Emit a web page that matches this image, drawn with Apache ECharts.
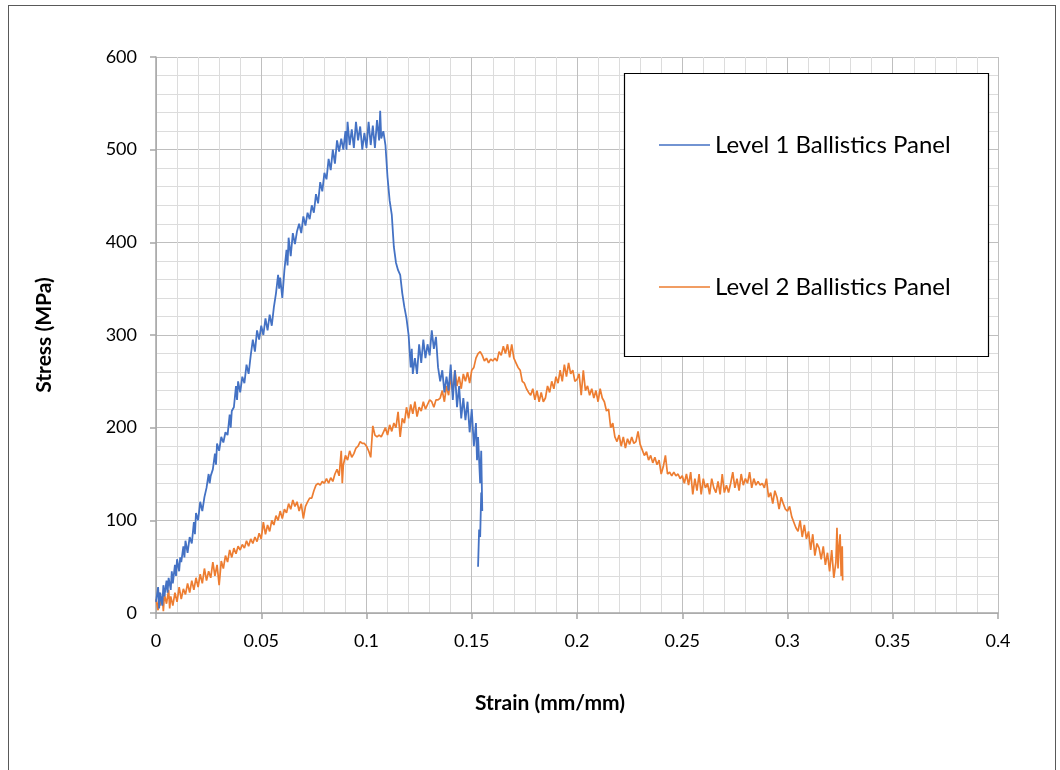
<!DOCTYPE html>
<html>
<head>
<meta charset="utf-8">
<script src="https://cdn.jsdelivr.net/npm/echarts@6/dist/echarts.min.js"></script>
<style>
html,body{margin:0;padding:0;background:#fff;}
#frame{position:absolute;left:8px;top:5px;width:1048px;height:820px;border:1.5px solid #595959;box-sizing:border-box;}
#chart{position:absolute;left:0;top:0;width:1060px;height:770px;}
</style>
</head>
<body>
<div id="frame"></div>
<div id="chart"></div>
<script>
const seriesNames = ['Level 1 Ballistics Panel', 'Level 2 Ballistics Panel'];
const xTicks = [0, 0.05, 0.1, 0.15, 0.2, 0.25, 0.3, 0.35, 0.4];
const yTicks = [0, 100, 200, 300, 400, 500, 600];

const level1 = [[0,12],[0.001,28],[0.0015,5],[0.002,22],[0.003,8],[0.0035,30],[0.004,18],[0.005,35],[0.0055,22],[0.006,38],[0.007,25],[0.0075,45],[0.008,32],[0.009,52],[0.0095,40],[0.010,58],[0.011,45],[0.0115,60],[0.012,55],[0.013,72],[0.0135,60],[0.014,78],[0.015,65],[0.016,82],[0.017,75],[0.018,98],[0.0185,85],[0.019,108],[0.020,100],[0.021,120],[0.022,110],[0.023,125],[0.024,135],[0.025,150],[0.0255,140],[0.026,148],[0.027,155],[0.028,172],[0.0285,160],[0.029,183],[0.030,175],[0.031,190],[0.032,184],[0.033,195],[0.034,192],[0.035,214],[0.0355,200],[0.036,218],[0.037,222],[0.038,245],[0.0385,230],[0.039,250],[0.040,238],[0.041,255],[0.042,248],[0.043,268],[0.044,258],[0.045,278],[0.046,295],[0.047,282],[0.048,305],[0.049,295],[0.050,310],[0.051,300],[0.052,318],[0.053,305],[0.054,322],[0.055,310],[0.056,330],[0.057,345],[0.058,365],[0.0585,350],[0.059,362],[0.060,340],[0.061,370],[0.062,392],[0.0625,375],[0.063,405],[0.064,385],[0.065,410],[0.066,398],[0.067,412],[0.068,420],[0.069,410],[0.070,428],[0.071,418],[0.072,432],[0.073,425],[0.074,440],[0.075,432],[0.076,452],[0.077,442],[0.078,465],[0.079,455],[0.080,475],[0.081,468],[0.082,490],[0.083,478],[0.084,500],[0.085,485],[0.086,510],[0.087,498],[0.088,512],[0.089,500],[0.090,520],[0.0905,500],[0.091,530],[0.092,505],[0.093,522],[0.094,502],[0.095,530],[0.096,510],[0.097,525],[0.098,500],[0.099,518],[0.100,502],[0.101,530],[0.102,505],[0.103,526],[0.104,502],[0.105,532],[0.106,510],[0.1065,542],[0.107,512],[0.108,520],[0.109,505],[0.110,470],[0.111,445],[0.112,430],[0.113,395],[0.114,378],[0.115,370],[0.116,365],[0.117,345],[0.118,330],[0.119,318],[0.120,300],[0.121,265],[0.1215,285],[0.122,258],[0.123,275],[0.124,258],[0.125,290],[0.126,270],[0.127,295],[0.128,275],[0.129,290],[0.130,278],[0.131,305],[0.132,285],[0.133,298],[0.134,265],[0.135,250],[0.136,262],[0.137,238],[0.138,255],[0.139,240],[0.140,268],[0.141,230],[0.142,262],[0.143,222],[0.144,245],[0.145,210],[0.146,232],[0.147,208],[0.148,228],[0.149,195],[0.150,220],[0.151,180],[0.152,205],[0.1525,165],[0.153,190],[0.154,140],[0.1545,175],[0.155,110],[0.1545,130],[0.154,82],[0.1535,90],[0.153,50]];

const level2 = [[0,15],[0.001,3],[0.0015,22],[0.002,8],[0.003,18],[0.0035,2],[0.004,20],[0.005,10],[0.006,25],[0.0065,5],[0.007,18],[0.008,8],[0.009,22],[0.010,12],[0.011,28],[0.012,15],[0.013,26],[0.014,20],[0.015,32],[0.016,22],[0.017,35],[0.018,25],[0.019,38],[0.020,28],[0.021,42],[0.022,32],[0.023,48],[0.024,35],[0.025,45],[0.026,38],[0.027,55],[0.028,40],[0.029,52],[0.030,30],[0.031,56],[0.032,48],[0.033,62],[0.034,55],[0.035,68],[0.036,60],[0.037,70],[0.038,64],[0.039,72],[0.040,68],[0.041,74],[0.042,70],[0.043,78],[0.044,72],[0.045,80],[0.046,75],[0.047,82],[0.048,77],[0.049,86],[0.050,80],[0.051,98],[0.052,85],[0.053,95],[0.054,88],[0.055,100],[0.056,95],[0.057,105],[0.058,100],[0.059,110],[0.060,102],[0.061,112],[0.062,108],[0.063,118],[0.064,112],[0.065,122],[0.066,115],[0.067,120],[0.068,110],[0.069,118],[0.070,102],[0.071,115],[0.072,120],[0.073,124],[0.074,124],[0.075,132],[0.076,138],[0.077,140],[0.078,138],[0.079,142],[0.080,140],[0.081,145],[0.082,140],[0.083,146],[0.084,142],[0.085,150],[0.086,155],[0.087,148],[0.088,175],[0.0885,140],[0.089,160],[0.090,170],[0.091,165],[0.092,175],[0.093,168],[0.094,172],[0.095,178],[0.096,180],[0.097,185],[0.098,183],[0.099,183],[0.100,180],[0.101,175],[0.102,168],[0.103,202],[0.104,192],[0.105,190],[0.106,192],[0.107,190],[0.108,195],[0.109,200],[0.110,192],[0.111,203],[0.112,196],[0.113,205],[0.114,200],[0.115,217],[0.116,190],[0.117,210],[0.118,205],[0.119,222],[0.120,210],[0.121,225],[0.122,215],[0.123,228],[0.124,212],[0.125,222],[0.126,218],[0.127,228],[0.128,220],[0.129,225],[0.130,230],[0.131,228],[0.132,222],[0.133,230],[0.134,230],[0.135,232],[0.136,240],[0.137,228],[0.138,245],[0.139,235],[0.140,255],[0.141,238],[0.142,262],[0.143,245],[0.144,255],[0.145,242],[0.146,258],[0.147,250],[0.148,260],[0.149,248],[0.150,262],[0.151,265],[0.152,275],[0.153,280],[0.154,282],[0.155,278],[0.156,272],[0.157,275],[0.158,270],[0.159,274],[0.160,272],[0.161,275],[0.162,272],[0.163,282],[0.164,278],[0.165,288],[0.166,280],[0.167,290],[0.168,276],[0.169,290],[0.170,275],[0.171,270],[0.172,265],[0.173,262],[0.174,250],[0.175,248],[0.176,242],[0.177,238],[0.178,235],[0.179,242],[0.180,230],[0.181,240],[0.182,228],[0.183,238],[0.184,228],[0.185,232],[0.186,245],[0.187,238],[0.188,250],[0.189,242],[0.190,255],[0.191,248],[0.192,262],[0.193,250],[0.194,268],[0.195,255],[0.196,270],[0.197,258],[0.198,262],[0.199,250],[0.200,252],[0.201,258],[0.202,235],[0.203,262],[0.204,240],[0.205,245],[0.206,235],[0.207,242],[0.208,232],[0.209,240],[0.210,228],[0.211,242],[0.212,232],[0.213,228],[0.214,218],[0.215,220],[0.216,200],[0.217,205],[0.218,190],[0.219,185],[0.220,192],[0.221,180],[0.222,190],[0.223,178],[0.224,188],[0.225,182],[0.226,190],[0.227,183],[0.228,185],[0.229,196],[0.230,182],[0.231,176],[0.232,170],[0.233,174],[0.234,165],[0.235,170],[0.236,162],[0.237,168],[0.238,160],[0.239,165],[0.240,150],[0.241,158],[0.242,170],[0.243,150],[0.244,152],[0.245,148],[0.246,152],[0.247,148],[0.248,150],[0.249,145],[0.250,148],[0.251,140],[0.252,150],[0.253,138],[0.254,152],[0.255,128],[0.256,145],[0.257,132],[0.258,150],[0.259,128],[0.260,145],[0.261,135],[0.262,140],[0.263,128],[0.264,145],[0.265,135],[0.266,130],[0.267,142],[0.268,128],[0.269,150],[0.270,130],[0.271,138],[0.272,130],[0.273,140],[0.274,152],[0.275,135],[0.276,145],[0.277,132],[0.278,150],[0.279,138],[0.280,145],[0.281,140],[0.282,152],[0.283,135],[0.284,145],[0.285,138],[0.286,142],[0.287,138],[0.288,140],[0.289,135],[0.290,145],[0.291,125],[0.292,130],[0.293,118],[0.294,132],[0.295,125],[0.296,112],[0.297,125],[0.298,118],[0.299,112],[0.300,110],[0.301,115],[0.302,104],[0.303,98],[0.304,92],[0.305,88],[0.306,100],[0.307,82],[0.308,95],[0.309,80],[0.310,88],[0.311,68],[0.312,85],[0.313,62],[0.314,75],[0.315,70],[0.316,58],[0.317,72],[0.318,52],[0.319,65],[0.320,45],[0.321,68],[0.322,38],[0.323,55],[0.3235,92],[0.324,48],[0.3245,72],[0.325,85],[0.3255,40],[0.326,72],[0.3262,35]];

const FONT = 'Lato, "Open Sans", sans-serif';
const LINE_ICON = 'path://M0,0L0.01,0L0.01,0.01Z M0,12.2L51,12.2L51,13.8L0,13.8Z M0,26L0.01,26L0.01,25.99Z';
const chart = echarts.init(document.getElementById('chart'), null, {renderer: 'canvas'});
chart.setOption({
  backgroundColor: 'transparent',
  animation: false,
  grid: {left: 156, right: 62, top: 57, bottom: 157, containLabel: false},
  graphic: [{
    type: 'rect', z: 10, silent: true,
    shape: {x: 624.5, y: 73.5, width: 364, height: 283},
    style: {fill: '#ffffff', stroke: '#000000', lineWidth: 1.2}
  }],
  legend: {
    z: 20,
    orient: 'vertical',
    left: 659, top: 132,
    itemWidth: 51, itemHeight: 26,
    itemGap: 116,
    padding: 0,
    icon: LINE_ICON,
    textStyle: {fontFamily: FONT, fontSize: 24, color: '#000', padding: [0,0,0,0]},
    data: seriesNames
  },
  xAxis: {
    type: 'value', min: xTicks[0], max: xTicks[xTicks.length-1], interval: 0.05,
    name: 'Strain (mm/mm)', nameLocation: 'middle', nameGap: 80,
    nameTextStyle: {fontFamily: FONT, fontSize: 21, fontWeight: 'bold', color: '#000', padding: [0, 54, 0, 0]},
    axisLine: {show: true, lineStyle: {color: '#a6a6a6', width: 1.5}},
    axisTick: {show: true, length: 6, lineStyle: {color: '#a6a6a6', width: 1.5}},
    axisLabel: {fontFamily: FONT, fontSize: 18, color: '#000', margin: 19,
      formatter: v => String(+v.toFixed(2))},
    splitLine: {show: true, lineStyle: {color: '#bfbfbf', width: 1}},
    minorTick: {show: false, splitNumber: 5},
    minorSplitLine: {show: true, lineStyle: {color: '#dcdcdc', width: 1}}
  },
  yAxis: {
    type: 'value', min: yTicks[0], max: yTicks[yTicks.length-1], interval: 100,
    name: 'Stress (MPa)', nameLocation: 'middle', nameGap: 101,
    nameTextStyle: {fontFamily: FONT, fontSize: 21, fontWeight: 'bold', color: '#000'},
    axisLine: {show: true, lineStyle: {color: '#a6a6a6', width: 1.5}},
    axisTick: {show: true, length: 6, lineStyle: {color: '#a6a6a6', width: 1.5}},
    axisLabel: {fontFamily: FONT, fontSize: 18, color: '#000', margin: 19},
    splitLine: {show: true, lineStyle: {color: '#bfbfbf', width: 1}},
    minorTick: {show: false, splitNumber: 5},
    minorSplitLine: {show: true, lineStyle: {color: '#dcdcdc', width: 1}}
  },
  series: [
    {name: seriesNames[0], type: 'line', data: level1, symbol: 'none', showSymbol: false,
     lineStyle: {color: '#4472C4', width: 1.8}, itemStyle: {color: '#4472C4'}, z: 3},
    {name: seriesNames[1], type: 'line', data: level2, symbol: 'none', showSymbol: false,
     lineStyle: {color: '#ED7D31', width: 1.7}, itemStyle: {color: '#ED7D31'}, z: 2}
  ]
});
</script>
</body>
</html>
